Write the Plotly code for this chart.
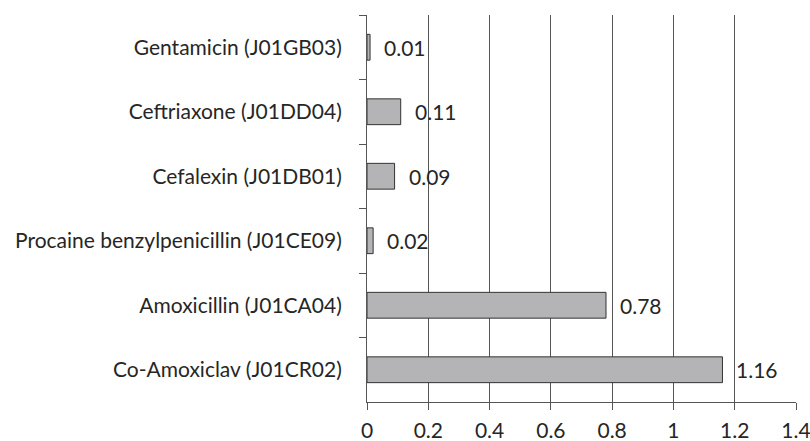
import plotly.graph_objects as go

categories = [
    "Gentamicin (J01GB03)",
    "Ceftriaxone (J01DD04)",
    "Cefalexin (J01DB01)",
    "Procaine benzylpenicillin (J01CE09)",
    "Amoxicillin (J01CA04)",
    "Co-Amoxiclav (J01CR02)",
]
values = [0.01, 0.11, 0.09, 0.02, 0.78, 1.16]
value_labels = ["0.01", "0.11", "0.09", "0.02", "0.78", "1.16"]
x_ticks = [0, 0.2, 0.4, 0.6, 0.8, 1, 1.2, 1.4]
x_tick_labels = ["0", "0.2", "0.4", "0.6", "0.8", "1", "1.2", "1.4"]

FONT = "Lato"
FS = 21
TXT = "#262626"
GRID = "#555555"

fig = go.Figure()
fig.add_trace(go.Bar(
    x=values,
    y=categories,
    orientation="h",
    width=0.4,
    marker=dict(color="#b4b4b7", line=dict(color="#333333", width=1)),
    hoverinfo="skip",
))

for v, c, t in zip(values, categories, value_labels):
    fig.add_annotation(
        x=v, y=c, text=t, showarrow=False, xanchor="left", yanchor="middle",
        xshift=12, font=dict(family=FONT, size=FS, color=TXT),
    )

fig.update_layout(
    width=810,
    height=441,
    margin=dict(l=367, r=14, t=15, b=39, autoexpand=False),
    paper_bgcolor="white",
    plot_bgcolor="white",
    showlegend=False,
    font=dict(family=FONT, size=FS, color=TXT),
    xaxis=dict(
        range=[0, 1.4],
        tickvals=x_ticks,
        ticktext=x_tick_labels,
        showgrid=True,
        gridcolor=GRID,
        gridwidth=1,
        zeroline=False,
        showline=True,
        linecolor=GRID,
        linewidth=1,
        ticks="outside",
        ticklen=7,
        tickcolor=GRID,
        ticklabelstandoff=3,
        ticklabeloverflow="allow",
        tickfont=dict(family=FONT, size=FS, color=TXT),
        fixedrange=True,
    ),
    yaxis=dict(
        categoryorder="array",
        categoryarray=categories,
        autorange="reversed",
        showgrid=False,
        zeroline=False,
        showline=True,
        linecolor=GRID,
        linewidth=1,
        ticks="outside",
        tickson="boundaries",
        ticklen=7,
        tickcolor=GRID,
        ticklabelstandoff=20,
        tickfont=dict(family=FONT, size=FS, color=TXT),
        fixedrange=True,
    ),
)

fig.write_html(
    "out.html",
    config={"displayModeBar": False},
    post_script="document.body.style.margin='0px';",
)
